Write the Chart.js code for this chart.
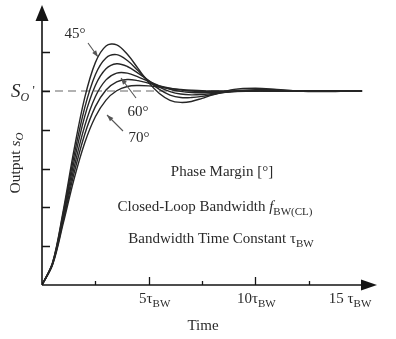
<!DOCTYPE html>
<html>
<head>
<meta charset="utf-8">
<script src="https://cdn.jsdelivr.net/npm/chart.js@4"></script>
<style>
body{margin:0;background:#fff}
</style>
</head>
<body>
<canvas id="c" width="396" height="339"></canvas>
<script>

/* ===== DATA ===== */

const times = [0,0.5,1,1.5,2,2.5,3,3.5,4,4.5,5,5.5,6,6.5,7,7.5,8,9,10,11,12,13,14,15]

const pm45 = [0,0.117,0.386,0.696,0.964,1.146,1.232,1.238,1.189,1.116,1.043,0.987,0.952,0.941,0.946,0.962,0.980,1.008,1.014,1.008,1.000,0.997,0.998,1.000]
const pm50 = [0,0.115,0.374,0.665,0.913,1.084,1.170,1.187,1.157,1.105,1.052,1.008,0.979,0.966,0.966,0.972,0.982,1.000,1.007,1.005,1.001,1.000,1.000,1.000]
const pm55 = [0,0.113,0.361,0.635,0.868,1.028,1.114,1.140,1.126,1.092,1.053,1.020,0.997,0.984,0.980,0.982,0.987,0.997,1.002,1.002,1.001,1.000,1.000,1.000]
const pm60 = [0,0.110,0.347,0.604,0.819,0.970,1.057,1.092,1.092,1.073,1.049,1.026,1.009,0.998,0.992,0.991,0.992,0.997,1.000,1.000,1.000,1.000,1.000,1.000]
const pm65 = [0,0.108,0.334,0.575,0.776,0.919,1.005,1.047,1.059,1.053,1.040,1.026,1.014,1.005,1.000,0.997,0.997,0.998,1.000,1.000,1.000,1.000,1.000,1.000]
const pm70 = [0,0.105,0.320,0.545,0.732,0.867,0.953,1.001,1.023,1.028,1.026,1.020,1.013,1.008,1.004,1.001,1.000,1.000,1.000,1.000,1.000,1.000,1.000,1.000]

const finalValue = 1.0

const yTicks = [0.2,0.4,0.6,0.8,1.0,1.2]
const xMajorTicks = [5,10,15]
const xMinorTicks = [2.5,7.5,12.5]
const xTickLabels = ["5τ","10τ","15 τ"]

/* ===== HELPERS ===== */

const SERIF = "'Liberation Serif','Times New Roman',serif"

function pts(ys){
return times.map((t,i)=>({x:t,y:ys[i]}))
}

function rich(ctx,parts,x,y,align){
let w = 0
parts.forEach(p=>{ctx.font=p.f;w+=ctx.measureText(p.t).width})
let cx = align==="center" ? x-w/2 : x
parts.forEach(p=>{
ctx.font=p.f
ctx.fillText(p.t,cx,y+(p.dy||0))
cx+=ctx.measureText(p.t).width
})
}

function arrowLine(ctx,x1,y1,x2,y2){
const a = Math.atan2(y2-y1,x2-x1)
ctx.beginPath()
ctx.moveTo(x1,y1)
ctx.lineTo(x2,y2)
ctx.stroke()
ctx.beginPath()
ctx.moveTo(x2,y2)
ctx.lineTo(x2-7*Math.cos(a-0.35),y2-7*Math.sin(a-0.35))
ctx.lineTo(x2-7*Math.cos(a+0.35),y2-7*Math.sin(a+0.35))
ctx.closePath()
ctx.fill()
}

/* ===== AXES + TEXT PLUGIN ===== */

const axesPlugin = {

id:"axesText",

afterDatasetsDraw(chart){

const {ctx, chartArea:{top,right}, scales:{x,y}} = chart
const x0 = x.getPixelForValue(0)
const y0 = y.getPixelForValue(0)

ctx.save()
ctx.strokeStyle="#151515"
ctx.fillStyle="#151515"
ctx.lineWidth=1.6

// axes lines
ctx.beginPath()
ctx.moveTo(x0,y0)
ctx.lineTo(x0,top+12)
ctx.moveTo(x0,y0)
ctx.lineTo(right-12,y0)
ctx.stroke()

// arrow heads
ctx.beginPath()
ctx.moveTo(x0,top)
ctx.lineTo(x0-6.5,top+16)
ctx.lineTo(x0+6.5,top+16)
ctx.closePath()
ctx.fill()

ctx.beginPath()
ctx.moveTo(right,y0)
ctx.lineTo(right-16,y0-5.5)
ctx.lineTo(right-16,y0+5.5)
ctx.closePath()
ctx.fill()

// ticks
ctx.lineWidth=1.3
ctx.beginPath()
yTicks.forEach(v=>{
const py = Math.round(y.getPixelForValue(v))+0.5
ctx.moveTo(x0,py)
ctx.lineTo(x0+8,py)
})
xMajorTicks.forEach(v=>{
const px = Math.round(x.getPixelForValue(v))+0.5
if(px<right-16){
ctx.moveTo(px,y0)
ctx.lineTo(px,y0-8)
}
})
xMinorTicks.forEach(v=>{
const px = Math.round(x.getPixelForValue(v))+0.5
ctx.moveTo(px,y0)
ctx.lineTo(px,y0-4)
})
ctx.stroke()

// x tick labels
ctx.fillStyle="#2a2a2a"
ctx.textBaseline="alphabetic"
const nudge = [6,1,-12]
xMajorTicks.forEach((v,i)=>{
rich(ctx,[
{t:xTickLabels[i],f:"15px "+SERIF},
{t:"BW",f:"11px "+SERIF,dy:4}
],x.getPixelForValue(v)+nudge[i],303,"center")
})

// axis titles
rich(ctx,[{t:"Time",f:"15px "+SERIF}],x.getPixelForValue(7.5)+1,330,"center")

ctx.save()
ctx.translate(20,163)
ctx.rotate(-Math.PI/2)
rich(ctx,[
{t:"Output ",f:"15.5px "+SERIF},
{t:"s",f:"italic 15.5px "+SERIF},
{t:"O",f:"italic 11px "+SERIF,dy:3}
],0,0,"center")
ctx.restore()

// S_O' level label
const ys = y.getPixelForValue(finalValue)
rich(ctx,[
{t:"S",f:"italic 19px "+SERIF},
{t:"O",f:"italic 12px "+SERIF,dy:4},
{t:" '",f:"13px "+SERIF,dy:-3}
],11,ys+6,"left")

// phase margin labels with arrows
rich(ctx,[{t:"45°",f:"15px "+SERIF}],75,38,"center")
rich(ctx,[{t:"60°",f:"15px "+SERIF}],138,116,"center")
rich(ctx,[{t:"70°",f:"15px "+SERIF}],139,142,"center")

ctx.strokeStyle="#555"
ctx.fillStyle="#555"
ctx.lineWidth=1.1
arrowLine(ctx,88,43,98,57)
arrowLine(ctx,136,98,121,78)
arrowLine(ctx,123,131,107,115)

// legend text block
ctx.fillStyle="#2a2a2a"
rich(ctx,[{t:"Phase Margin [°]",f:"15px "+SERIF}],222,176,"center")
rich(ctx,[
{t:"Closed-Loop Bandwidth ",f:"15px "+SERIF},
{t:"f",f:"italic 15px "+SERIF},
{t:"BW(CL)",f:"11px "+SERIF,dy:4}
],215,211,"center")
rich(ctx,[
{t:"Bandwidth Time Constant τ",f:"15px "+SERIF},
{t:"BW",f:"11px "+SERIF,dy:4}
],221,243,"center")

ctx.restore()

}

}

/* ===== CHART ===== */

const curve = (ys)=>({
data:pts(ys),
borderColor:"#262626",
borderWidth:1.4,
pointRadius:0,
tension:0.35,
order:1
})

new Chart(document.getElementById("c"),{

type:"line",

data:{
datasets:[
curve(pm45),curve(pm50),curve(pm55),curve(pm60),curve(pm65),curve(pm70),
{
data:[{x:0,y:finalValue},{x:15,y:finalValue}],
borderColor:"#666",
borderWidth:1.1,
borderDash:[8,5],
pointRadius:0,
order:2
}
]
},

options:{
responsive:false,
animation:false,
devicePixelRatio:1,
layout:{padding:{left:42,right:19,top:5,bottom:54}},
plugins:{legend:false,tooltip:{enabled:false}},
scales:{
x:{type:"linear",min:0,max:15.7,display:false},
y:{min:0,max:1.443,display:false}
}
},

plugins:[axesPlugin]

})

</script>
</body>
</html>
